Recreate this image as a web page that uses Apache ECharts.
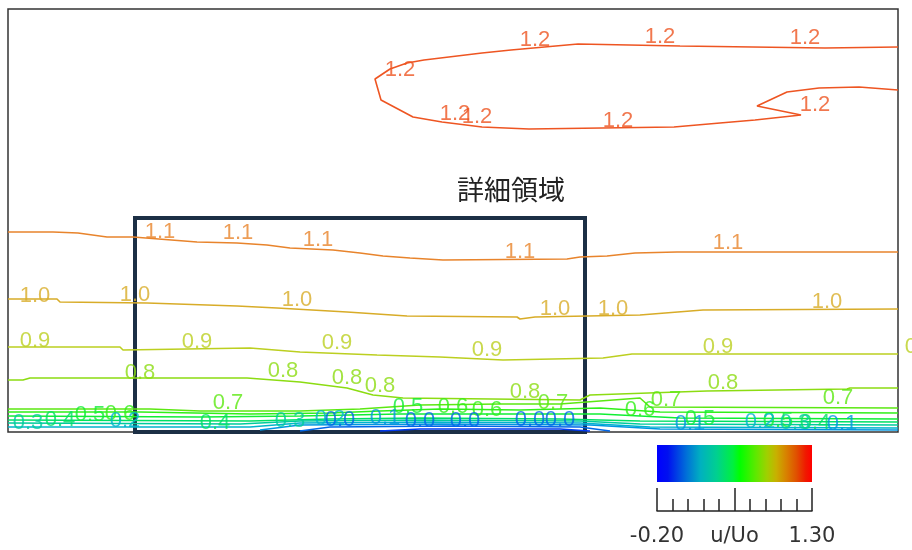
<!DOCTYPE html>
<html>
<head>
<meta charset="utf-8">
<script src="https://cdn.jsdelivr.net/npm/echarts@6/dist/echarts.min.js"></script>
<style>
  html, body { margin: 0; padding: 0; background: #ffffff; }
  #main { width: 912px; height: 550px; }
</style>
</head>
<body>
<div id="main"></div>
<script>
// Contour lines of u/Uo in the channel section (x, y in cm).
// Each contour is a polyline; label points mark where the level value is printed.
const line12 = [[89.0,38.5],[81.7,38.4],[67.2,38.6],[57.0,38.8],[50.3,38.2],[47.4,37.9],[41.6,37.2],[39.9,36.9],[38.2,36.3],[36.7,35.3],[37.3,33.2],[40.5,31.5],[43.4,31.0],[47.4,30.5],[52.1,30.3],[66.6,30.5],[71.2,30.9],[74.7,31.2],[79.3,31.7],[74.9,32.6],[77.9,34.0],[81.1,34.4],[85.1,34.5],[89.0,34.2]];
const lab12 = [[52.7,39.2],[65.2,39.5],[79.7,39.4],[39.2,36.2],[44.7,31.8],[46.9,31.5],[61.0,31.1],[80.7,32.7]];

const line11 = [[0,20.0],[4.5,20.0],[7.0,19.9],[9.9,19.5],[12.5,19.5],[18.9,19.0],[22.9,18.9],[25.9,18.7],[28.2,18.4],[32.5,18.2],[35.2,17.9],[37.5,17.6],[40.2,17.4],[43.5,17.2],[55.9,17.3],[57.2,17.5],[59.9,17.6],[62.7,17.9],[66.9,18.0],[89.0,18.0]];
const lab11 = [[15.2,20.0],[23.0,19.9],[31.0,19.2],[51.2,18.0],[72.0,18.9]];

const line10 = [[0,13.3],[4.9,13.3],[5.2,13.0],[13.9,12.9],[22.9,12.6],[26.9,12.4],[33.9,12.0],[39.9,11.6],[50.9,11.5],[51.2,11.3],[52.7,11.5],[63.2,11.7],[69.5,12.2],[89.0,12.3]];
const lab10 = [[2.7,13.6],[12.7,13.7],[28.9,13.2],[54.7,12.3],[60.5,12.3],[81.9,13.0]];

const line09 = [[0,8.5],[11.2,8.5],[11.5,8.2],[24.2,8.4],[29.2,8.0],[36.9,7.7],[43.2,7.5],[49.5,7.2],[59.5,7.4],[62.4,7.8],[89.0,7.8]];
const lab09 = [[2.7,9.1],[18.9,9.0],[32.9,8.9],[47.9,8.2],[71.0,8.5],[91.2,8.5]];

const line08 = [[0,5.2],[1.5,5.2],[2.2,5.4],[23.9,5.4],[29.2,5.0],[33.9,4.4],[36.5,3.7],[39.5,3.4],[57.2,3.2],[58.2,3.7],[69.9,4.1],[83.9,4.3],[84.2,4.4],[89.0,4.4]];
const lab08 = [[13.2,5.9],[27.5,6.1],[33.9,5.4],[37.2,4.6],[51.7,4.0],[71.5,4.9]];

const line07 = [[0,2.3],[14.2,2.3],[19.2,2.1],[29.2,2.1],[35.2,2.3],[41.2,2.7],[49.2,2.8],[55.2,2.8],[59.2,3.1],[63.2,3.4],[64.2,2.5],[89.0,2.4]];
const lab07 = [[22.0,2.9],[54.5,2.9],[65.8,3.2],[83.0,3.4]];

const line06 = [[0,2.0],[13.2,2.0],[24.2,1.8],[32.2,1.9],[37.2,2.1],[43.2,2.3],[51.2,2.2],[59.2,2.4],[65.2,2.0],[89.0,1.9]];
const lab06 = [[11.2,1.8],[44.5,2.5],[47.9,2.2],[63.2,2.2]];

const line05 = [[0,1.6],[19.2,1.5],[29.2,1.6],[39.2,1.8],[49.2,1.8],[59.2,1.8],[67.2,1.4],[89.0,1.3]];
const lab05 = [[8.2,1.7],[40.0,2.5],[69.2,1.3],[77.0,1.1]];

const line04 = [[0,1.2],[24.2,1.1],[32.2,1.3],[41.2,1.4],[55.2,1.3],[63.2,1.1],[89.0,1.0]];
const lab04 = [[5.2,1.2],[20.7,0.9],[80.7,0.9]];

const line03 = [[0,0.9],[23.2,0.8],[29.2,1.1],[41.2,1.2],[57.2,1.1],[63.2,0.8],[89.0,0.7]];
const lab03 = [[2.0,0.9],[28.2,1.1],[78.7,0.9]];

const line02 = [[0,0.5],[24.2,0.5],[29.2,0.9],[42.2,1.0],[57.2,0.9],[64.2,0.5],[89.0,0.4]];
const lab02 = [[11.7,1.1],[32.2,1.3],[75.2,1.0]];

const line01 = [[25.2,0.2],[29.2,0.7],[43.2,0.8],[58.2,0.7],[65.2,0.3],[89.0,0.2]];
const lab01 = [[37.7,1.4],[68.2,0.8],[83.4,0.8]];

const line00 = [[29.2,0.1],[32.2,0.5],[44.2,0.6],[57.2,0.5],[60.2,0.1]];
const lab00 = [[33.2,1.2],[41.2,1.1],[45.7,1.1],[52.2,1.2],[55.2,1.2]];

const lineM01 = [[37.2,0.1],[41.2,0.3],[55.2,0.3],[58.2,0.1]];
const labM01 = [];

const levels = [1.2, 1.1, 1.0, 0.9, 0.8, 0.7, 0.6, 0.5, 0.4, 0.3, 0.2, 0.1, 0.0, -0.1];
const contourLines = [line12, line11, line10, line09, line08, line07, line06, line05, line04, line03, line02, line01, line00, lineM01];
const contourLabels = [lab12, lab11, lab10, lab09, lab08, lab07, lab06, lab05, lab04, lab03, lab02, lab01, lab00, labM01];

// Detail region (x from, x to, y from, y to), cm
const detailRegion = [12.7, 57.7, 0, 21.4];

// Colour scale range of u/Uo
const scaleMin = -0.2;
const scaleMax = 1.3;

// Line colours per level (jet-like colour map)
const levelColors = {
  '1.2': '#ee5522', '1.1': '#e8842c', '1.0': '#d8ac28', '0.9': '#bccf20',
  '0.8': '#8cdc12', '0.7': '#5ce812', '0.6': '#30f018', '0.5': '#10ee34',
  '0.4': '#00e064', '0.3': '#00cc9c', '0.2': '#00b4cc', '0.1': '#0096e0',
  '0.0': '#0066e8', '-0.1': '#0038f0'
};
const barStops = [
  [0, '#0000ff'], [0.07, '#0010f0'], [0.19, '#0070d8'], [0.28, '#00b0c0'],
  [0.385, '#00d090'], [0.49, '#00f040'], [0.535, '#00ff00'], [0.64, '#60e800'],
  [0.71, '#a0d000'], [0.77, '#c8b000'], [0.835, '#d88000'], [0.9, '#e05000'],
  [0.96, '#f01800'], [1, '#ff0000']
];

const labelFont = 'Liberation Sans';
const series = [];
levels.forEach(function (lv, i) {
  const key = lv.toFixed(1);
  const col = levelColors[key];
  series.push({
    type: 'line', xAxisIndex: 0, yAxisIndex: 0,
    data: contourLines[i], showSymbol: false, silent: true, z: 2,
    lineStyle: { color: col, width: 1.6 }
  });
  series.push({
    type: 'scatter', xAxisIndex: 0, yAxisIndex: 0,
    data: contourLabels[i], symbolSize: 0, silent: true, clip: false, z: 3,
    label: {
      show: true, position: 'inside', formatter: key,
      color: col, fontFamily: labelFont, fontSize: 22
    }
  });
});

// Frame of the detail region
series.push({
  type: 'line', xAxisIndex: 0, yAxisIndex: 0, data: [], silent: true,
  markArea: {
    silent: true,
    itemStyle: { color: 'rgba(0,0,0,0)', borderColor: '#1c2f45', borderWidth: 4 },
    data: [[{ coord: [detailRegion[0], detailRegion[2]] }, { coord: [detailRegion[1], detailRegion[3]] }]]
  },
  z: 5
});

// Colour-bar scale axis (offset so that the minimum sits at 0)
series.push({ type: 'scatter', xAxisIndex: 1, yAxisIndex: 1, data: [], silent: true });

const chart = echarts.init(document.getElementById('main'), null, { renderer: 'canvas' });
chart.setOption({
  animation: false,
  backgroundColor: '#ffffff',
  grid: [
    { left: 8, top: 9, width: 890, height: 423, show: true, borderColor: '#333333', borderWidth: 1.5, backgroundColor: 'transparent' },
    { left: 657, top: 445, width: 155, height: 66, show: false }
  ],
  xAxis: [
    { gridIndex: 0, type: 'value', min: 0, max: 89.0, show: false },
    {
      gridIndex: 1, type: 'value', min: 0, max: scaleMax - scaleMin, interval: 0.75,
      position: 'bottom',
      axisLine: { show: true, lineStyle: { color: '#222', width: 1.5 } },
      axisTick: { show: true, inside: true, length: 23, lineStyle: { color: '#222', width: 1.5 } },
      minorTick: { show: true, splitNumber: 5, length: 12, lineStyle: { color: '#222', width: 1.5 } },
      splitLine: { show: false },
      axisLabel: {
        show: true, margin: 15, color: '#333', fontFamily: 'DejaVu Sans', fontSize: 21,
        showMinLabel: true, showMaxLabel: true,
        formatter: function (v) {
          if (Math.abs(v) < 1e-6) return scaleMin.toFixed(2);
          if (Math.abs(v - (scaleMax - scaleMin)) < 1e-6) return scaleMax.toFixed(2);
          return 'u/Uo';
        }
      }
    }
  ],
  yAxis: [
    { gridIndex: 0, type: 'value', min: 0, max: 42.3, show: false },
    { gridIndex: 1, type: 'value', min: 0, max: 1, show: false }
  ],
  graphic: [
    {
      type: 'rect', shape: { x: 657, y: 445, width: 155, height: 37 }, silent: true,
      style: {
        fill: { type: 'linear', x: 0, y: 0, x2: 1, y2: 0,
          colorStops: barStops.map(function (s) { return { offset: s[0], color: s[1] }; }) }
      }
    },
    {
      type: 'text', x: 511, y: 190, silent: true,
      style: {
        text: '詳細領域', fill: '#222222',
        font: '27px "Noto Sans CJK JP"', textAlign: 'center', textVerticalAlign: 'middle'
      }
    }
  ],
  series: series
});
</script>
</body>
</html>
